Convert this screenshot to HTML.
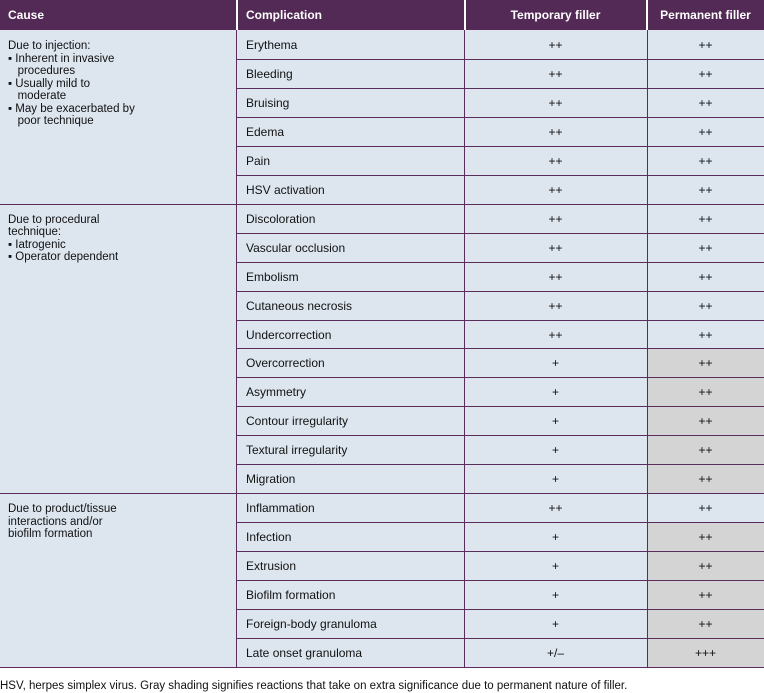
<!DOCTYPE html>
<html><head><meta charset="utf-8"><style>
body{margin:0;width:764px;height:693px;background:#fff;font-family:"Liberation Sans",Arial,sans-serif;position:relative;overflow:hidden}
div{position:absolute;box-sizing:border-box}
.h{top:0;height:30px;background:#522a55;color:#fff;font-weight:bold;font-size:12px;line-height:31px}
</style></head><body>
<div class="h" style="left:0;width:764px"></div>
<div class="h" style="left:8px;background:none">Cause</div>
<div class="h" style="left:246px;background:none">Complication</div>
<div class="h" style="left:464px;width:183px;text-align:center;background:none">Temporary filler</div>
<div class="h" style="left:647px;width:117px;text-align:center;background:none">Permanent filler</div>
<div style="left:236px;top:0;width:2px;height:30px;background:#fff"></div>
<div style="left:464px;top:0;width:2px;height:30px;background:#fff"></div>
<div style="left:646px;top:0;width:2px;height:30px;background:#fff"></div>
<div id="body" style="left:0;top:30px;width:764px;height:638px;background:#dde6ef"></div>
<div style="left:0;top:680px;font-size:11.5px;color:#111;white-space:nowrap">HSV, herpes simplex virus. Gray shading signifies reactions that take on extra significance due to permanent nature of filler.</div>
<script>
const comps=["Erythema","Bleeding","Bruising","Edema","Pain","HSV activation","Discoloration","Vascular occlusion","Embolism","Cutaneous necrosis","Undercorrection","Overcorrection","Asymmetry","Contour irregularity","Textural irregularity","Migration","Inflammation","Infection","Extrusion","Biofilm formation","Foreign-body granuloma","Late onset granuloma"];
const temp=["++","++","++","++","++","++","++","++","++","++","++","+","+","+","+","+","++","+","+","+","+","+/\u2013"];
const perm=["++","++","++","++","++","++","++","++","++","++","++","++","++","++","++","++","++","++","++","++","++","+++"];
const gray=[0,0,0,0,0,0,0,0,0,0,0,1,1,1,1,1,0,1,1,1,1,1];
const groups=[[0,6,"Due to injection:<br>\u25aa Inherent in invasive<br>&nbsp;&nbsp;&nbsp;procedures<br>\u25aa Usually mild to<br>&nbsp;&nbsp;&nbsp;moderate<br>\u25aa May be exacerbated by<br>&nbsp;&nbsp;&nbsp;poor technique"],[6,16,"Due to procedural<br>technique:<br>\u25aa Iatrogenic<br>\u25aa Operator dependent"],[16,22,"Due to product/tissue<br>interactions and/or<br>biofilm formation"]];
const RH=28.95,T=30,P="#5a2d5c";
function mk(name,css,html){const d=document.createElement('div');d.style.cssText=css;if(html!==undefined)d.innerHTML=html;


document.body.appendChild(d);return d;}
comps.forEach((c,i)=>{const y=T+i*RH;
if(gray[i])mk('gray-cell',`left:648px;top:${y}px;width:116px;height:${RH}px;background:#d4d4d4`);
mk('complication-label',`left:246px;top:${y+1}px;height:${RH}px;line-height:${RH}px;font-size:12px;color:#111`,c);
mk('temporary-value',`left:464px;width:183px;text-align:center;top:${y+1}px;line-height:${RH}px;font-size:12px;color:#111`,temp[i]);
mk('permanent-value',`left:647px;width:117px;text-align:center;top:${y+1}px;line-height:${RH}px;font-size:12px;color:#111`,perm[i]);
if(i>0)mk('row-border',`left:236px;top:${y}px;width:528px;height:1px;background:${P}`);
});
groups.forEach(g=>{const y=T+g[0]*RH;
mk('cause-text',`left:0;top:${y+1}px;width:236px;font-size:11.5px;line-height:12.5px;color:#111;padding:9px 0 0 8px`,g[2]);
if(g[0]>0)mk('group-border',`left:0;top:${y}px;width:236px;height:1px;background:${P}`);
});
mk('col-border',`left:236px;top:30px;width:1px;height:638px;background:${P}`);
mk('col-border',`left:464px;top:30px;width:1px;height:638px;background:${P}`);
mk('col-border',`left:647px;top:30px;width:1px;height:638px;background:${P}`);
mk('bottom-border',`left:0;top:667px;width:764px;height:1px;background:${P}`);
</script>
</body></html>
